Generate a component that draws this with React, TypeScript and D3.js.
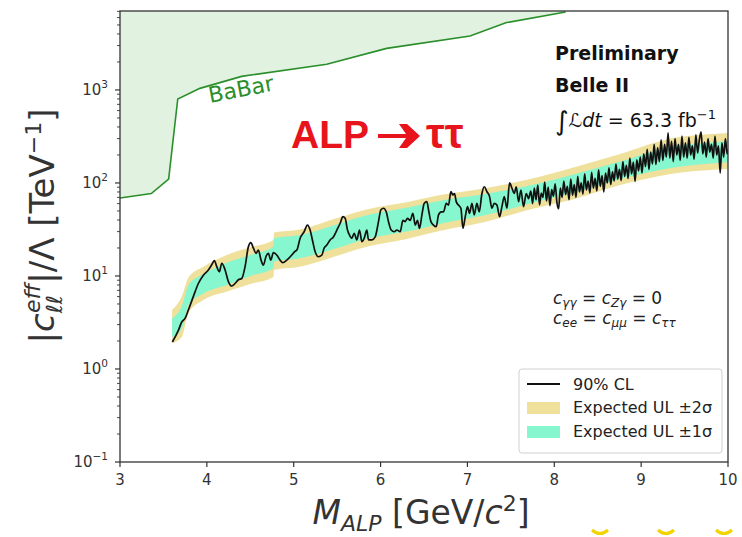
import React from 'react';
import * as d3 from 'd3';

const W = 742;
const H = 537;
const plot = { left: 120, right: 728, top: 11, bottom: 462 };
const FONT = '"DejaVu Sans", sans-serif';
const INK = '#333';

// BaBar exclusion boundary
const babarMass = [3.0, 3.36, 3.56, 3.665, 3.92, 4.4, 5.38, 6.07, 7.03, 7.45, 8.13];
const babarLimit = [69, 77, 110, 800, 1040, 1400, 1890, 2800, 3800, 5300, 6900];

// expected upper limit bands
const bandMass = [3.6, 3.71, 3.79, 3.96, 4.23, 4.5, 4.765, 4.775, 5.07, 5.5, 5.84, 6.3, 6.72, 7.2, 7.72, 8.2, 8.76, 9.34, 9.91, 10.0];
const exp2Hi = [4.3, 6.0, 9.7, 12.6, 16.8, 20.3, 24.4, 29.3, 31.6, 42, 52, 62, 75, 88, 110, 145, 205, 300, 340, 345];
const exp1Hi = [3.5, 4.7, 8.0, 10.5, 13.9, 16.8, 20.6, 25.4, 27.5, 36, 45, 54, 65, 76, 94, 122, 170, 245, 275, 280];
const exp1Lo = [2.2, 2.7, 4.9, 6.5, 8.0, 10.0, 12.1, 14.3, 15.5, 20, 25, 30, 37, 45, 60, 78, 110, 145, 165, 167];
const exp2Lo = [1.9, 2.2, 4.0, 5.5, 6.8, 8.2, 9.7, 11.6, 12.6, 16.5, 20.6, 25, 31, 38, 52, 66, 95, 125, 140, 142];

// observed 90% CL upper limit [mass, limit]
const clLimit: [number, number][] = [
  [3.603, 1.95], [3.672, 2.6], [3.711, 3.2], [3.749, 3.5], [3.787, 4.3], [3.844, 6.0], [3.902, 8.3],
  [3.96, 10.2], [4.017, 11.6], [4.056, 13.2], [4.086, 14.6], [4.114, 12.6], [4.144, 11.1], [4.172, 13.7],
  [4.21, 11.6], [4.248, 8.7], [4.287, 7.8], [4.325, 8.3], [4.363, 9.1], [4.402, 9.4], [4.44, 12.6],
  [4.478, 20.6], [4.506, 22.8], [4.536, 19.9], [4.567, 17.5], [4.593, 19], [4.624, 14.8], [4.651, 13.1],
  [4.682, 16.3], [4.709, 17.5], [4.736, 14.8], [4.766, 17.8], [4.805, 16.8], [4.843, 14.8], [4.874, 13.9],
  [4.92, 14.8], [4.978, 16.8], [5.008, 18.2], [5.036, 19], [5.074, 25.4], [5.12, 29.9], [5.158, 35.3],
  [5.189, 31.2], [5.215, 24.4], [5.247, 18.2], [5.285, 16.1], [5.324, 16.8], [5.35, 19.9], [5.381, 21.5],
  [5.419, 24.4], [5.457, 26.3], [5.497, 31.2], [5.535, 36.9], [5.566, 43.4], [5.592, 41.7], [5.619, 31.2],
  [5.642, 27.6], [5.669, 25.4], [5.696, 28.8], [5.727, 24.4], [5.757, 31.2], [5.785, 23.4], [5.811, 25.4],
  [5.842, 31.2], [5.861, 24.4], [5.9, 24.4], [5.938, 26.3], [5.976, 38.4], [6.003, 51.3], [6.033, 53.5],
  [6.065, 49], [6.091, 38.4], [6.122, 31.2], [6.157, 29.9], [6.188, 31.2], [6.226, 29.9], [6.257, 39.6],
  [6.283, 38.4], [6.31, 41.7], [6.341, 39.6], [6.372, 47.2], [6.399, 35.3], [6.425, 39.6], [6.448, 32.5],
  [6.476, 45.3], [6.502, 60.3], [6.533, 63], [6.556, 49], [6.58, 38.4], [6.609, 35.3], [6.641, 33.9],
  [6.667, 45.3], [6.698, 49], [6.725, 49], [6.756, 60.3], [6.782, 57.8], [6.81, 80.5], [6.833, 74.2],
  [6.851, 77], [6.871, 63], [6.897, 57.8], [6.925, 53.5], [6.948, 32.5], [6.975, 43.4], [7.001, 55.6],
  [7.024, 47.2], [7.052, 60.3], [7.078, 45.3], [7.109, 60.3], [7.136, 49], [7.167, 77], [7.194, 91],
  [7.225, 80.5], [7.255, 71.3], [7.282, 53.5], [7.309, 60.3], [7.34, 57.8], [7.37, 43.4], [7.397, 55.6],
  [7.424, 71.3], [7.455, 53.5], [7.485, 100], [7.513, 87.7], [7.539, 77], [7.562, 91], [7.589, 63],
  [7.616, 84], [7.646, 55.6], [7.677, 77], [7.704, 68],
  [7.73, 82], [7.75, 60], [7.77, 88], [7.79, 66], [7.81, 95], [7.83, 58], [7.85, 78], [7.87, 70],
  [7.89, 102], [7.91, 64], [7.93, 90], [7.95, 57], [7.97, 85], [7.99, 72], [8.01, 98], [8.03, 62],
  [8.05, 53], [8.07, 88], [8.09, 70], [8.11, 105], [8.13, 75], [8.15, 92], [8.17, 66], [8.19, 110],
  [8.21, 74], [8.23, 96], [8.25, 70], [8.27, 118], [8.29, 80], [8.31, 100], [8.33, 76], [8.35, 125],
  [8.37, 84], [8.39, 105], [8.41, 78], [8.43, 130], [8.45, 88], [8.47, 112], [8.49, 82], [8.51, 138],
  [8.53, 92], [8.55, 120], [8.57, 80], [8.59, 128], [8.61, 100], [8.63, 145], [8.65, 96], [8.67, 132],
  [8.69, 105], [8.71, 160], [8.73, 110], [8.75, 140], [8.77, 106], [8.79, 170], [8.81, 118], [8.83, 155],
  [8.85, 112], [8.87, 185], [8.89, 125], [8.91, 168], [8.93, 104], [8.95, 177], [8.97, 135], [8.99, 190],
  [9.01, 128], [9.03, 205], [9.05, 150], [9.07, 230], [9.09, 140], [9.11, 215], [9.13, 160], [9.15, 260],
  [9.17, 158], [9.19, 240], [9.21, 170], [9.23, 290], [9.25, 175], [9.27, 260], [9.29, 190], [9.31, 345],
  [9.33, 185], [9.35, 280], [9.37, 170], [9.39, 300], [9.41, 200], [9.43, 260], [9.45, 175], [9.47, 320],
  [9.49, 190], [9.51, 270], [9.53, 185], [9.55, 310], [9.57, 200], [9.59, 250], [9.61, 180], [9.63, 330],
  [9.65, 210], [9.67, 290], [9.69, 355], [9.71, 205], [9.73, 275], [9.75, 190], [9.77, 300], [9.79, 215],
  [9.81, 260], [9.83, 185], [9.85, 320], [9.87, 200], [9.89, 250], [9.91, 128], [9.93, 270], [9.95, 190],
  [9.97, 300], [9.99, 205], [10.0, 230],
];

const xTicks = [3, 4, 5, 6, 7, 8, 9, 10];
const yTickExp = [-1, 0, 1, 2, 3];
const yMax = 7060;

export default function App() {
  const x = d3.scaleLinear().domain([3, 10]).range([plot.left, plot.right]);
  const y = d3.scaleLog().domain([0.1, yMax]).range([plot.bottom, plot.top]);

  const babarArea = d3.area<number>()
    .x(i => x(babarMass[i]))
    .y0(y(yMax))
    .y1(i => y(babarLimit[i]))(babarMass.map((_, i) => i));
  const babarLine = d3.line<number>()
    .x(i => x(babarMass[i]))
    .y(i => y(babarLimit[i]))(babarMass.map((_, i) => i));

  const idx = bandMass.map((_, i) => i);
  const band = (lo: number[], hi: number[]) => d3.area<number>()
    .x(i => x(bandMass[i]))
    .y0(i => y(lo[i]))
    .y1(i => y(hi[i]))
    .curve(d3.curveMonotoneX)(idx);

  const clPath = d3.line<[number, number]>()
    .x(d => x(d[0]))
    .y(d => y(d[1]))
    .curve(d3.curveMonotoneX)(clLimit);

  const minor: number[] = [];
  [0.1, 1, 10, 100, 1000].forEach(base => {
    for (let k = 2; k <= 9; k++) {
      const v = base * k;
      if (v < yMax) minor.push(v);
    }
  });

  return (
    <svg width={W} height={H} style={{ position: 'absolute', left: 0, top: 0, background: '#fff' }}
      fontFamily={FONT}>
      <defs>
        <clipPath id="plotclip">
          <rect x={plot.left} y={plot.top} width={plot.right - plot.left} height={plot.bottom - plot.top} />
        </clipPath>
      </defs>

      <g clipPath="url(#plotclip)">
        <path d={babarArea || ''} fill="#2ca02c" fillOpacity={0.14} />
        <path d={babarLine || ''} fill="none" stroke="#2a8f2a" strokeWidth={1.6} />
        <path d={band(exp2Lo, exp2Hi) || ''} fill="#efe09c" />
        <path d={band(exp1Lo, exp1Hi) || ''} fill="#86f7cf" />
        <path d={clPath || ''} fill="none" stroke="#111" strokeWidth={1.7} strokeLinejoin="round" />
      </g>

      {/* frame */}
      <rect x={plot.left} y={plot.top} width={plot.right - plot.left} height={plot.bottom - plot.top}
        fill="none" stroke={INK} strokeWidth={1.3} />

      {/* x axis */}
      {xTicks.map(t => (
        <g key={t}>
          <line x1={x(t)} x2={x(t)} y1={plot.bottom} y2={plot.bottom + 5} stroke={INK} strokeWidth={1.2} />
          <text x={x(t)} y={485} textAnchor="middle" fontSize={15} fill={INK}>{t}</text>
        </g>
      ))}

      {/* y axis */}
      {minor.map(v => (
        <line key={v} x1={plot.left - 3} x2={plot.left} y1={y(v)} y2={y(v)} stroke={INK} strokeWidth={0.9} />
      ))}
      {yTickExp.map(e => (
        <g key={e}>
          <line x1={plot.left - 5} x2={plot.left} y1={y(Math.pow(10, e))} y2={y(Math.pow(10, e))} stroke={INK} strokeWidth={1.2} />
          <text x={108} y={y(Math.pow(10, e)) + 5} textAnchor="end" fontSize={15} fill={INK}>
            10<tspan dy={-7} fontSize={10.5}>{e < 0 ? '\u2212' + Math.abs(e) : e}</tspan>
          </text>
        </g>
      ))}

      {/* axis titles */}
      <text x={421} y={524} textAnchor="middle" fontSize={33} fill={INK}>
        <tspan fontStyle="italic">M</tspan>
        <tspan dy={7} fontSize={22} fontStyle="italic">ALP</tspan>
        <tspan dy={-7}> [GeV/</tspan>
        <tspan fontStyle="italic">c</tspan>
        <tspan dy={-13} fontSize={22}>2</tspan>
        <tspan dy={13}>]</tspan>
      </text>
      <text transform="translate(54,226) rotate(-90)" textAnchor="middle" fontSize={34} fill={INK}>
        <tspan>|</tspan>
        <tspan fontStyle="italic">c</tspan>
        <tspan dy={8} fontSize={22} fontStyle="italic">{'\u2113\u2113'}</tspan>
        <tspan dx={-18} dy={-22} fontSize={22} fontStyle="italic">eff</tspan>
        <tspan dy={14}>|/Λ [TeV</tspan>
        <tspan dy={-13} fontSize={22}>{'\u22121'}</tspan>
        <tspan dy={13}>]</tspan>
      </text>

      {/* BaBar label */}
      <text transform="translate(210,103) rotate(-11)" fontSize={22} fill="#2a8f2a">BaBar</text>

      {/* title */}
      <g fill="#e8141c" fontFamily='"Liberation Sans", sans-serif' fontWeight="bold">
        <text x={291} y={148} fontSize={39}>ALP</text>
        <path d="M378,134 L406,134 L399,124 L407,124 L420,136 L407,148 L399,148 L406,138 L378,138 Z" />
        <text x={426} y={148} fontSize={42}>ττ</text>
      </g>

      {/* annotations */}
      <text x={555} y={60} fontWeight="bold" fontSize={19} fill="#111">Preliminary</text>
      <text x={555} y={92} fontWeight="bold" fontSize={19} fill="#111">Belle II</text>
      <text x={555} y={127} fontSize={19} fill="#111">
        <tspan fontSize={26} dy={3}>∫</tspan>
        <tspan dy={-3} fontStyle="italic">ℒdt</tspan>
        <tspan> = 63.3 fb</tspan>
        <tspan dy={-8} fontSize={13}>{'\u22121'}</tspan>
      </text>
      <text x={553} y={304} fontSize={17} fill="#222">
        <tspan fontStyle="italic">c</tspan>
        <tspan dy={3} fontSize={12} fontStyle="italic">γγ</tspan>
        <tspan dy={-3}> = </tspan>
        <tspan fontStyle="italic">c</tspan>
        <tspan dy={3} fontSize={12} fontStyle="italic">Zγ</tspan>
        <tspan dy={-3}> = 0</tspan>
      </text>
      <text x={553} y={324} fontSize={17} fill="#222">
        <tspan fontStyle="italic">c</tspan>
        <tspan dy={3} fontSize={12} fontStyle="italic">ee</tspan>
        <tspan dy={-3}> = </tspan>
        <tspan fontStyle="italic">c</tspan>
        <tspan dy={3} fontSize={12} fontStyle="italic">μμ</tspan>
        <tspan dy={-3}> = </tspan>
        <tspan fontStyle="italic">c</tspan>
        <tspan dy={3} fontSize={12} fontStyle="italic">ττ</tspan>
      </text>

      {/* legend */}
      <g>
        <rect x={519} y={369} width={203} height={84} rx={3} fill="#fff" fillOpacity={0.85} stroke="#d0d0d0" />
        <line x1={527} x2={560} y1={384} y2={384} stroke="#111" strokeWidth={1.8} />
        <text x={573} y={390} fontSize={16} fill="#222">90% CL</text>
        <rect x={527} y={402} width={33} height={12} fill="#efe09c" />
        <text x={573} y={413} fontSize={16} fill="#222">Expected UL ±2σ</text>
        <rect x={527} y={426} width={33} height={12} fill="#86f7cf" />
        <text x={573} y={437} fontSize={16} fill="#222">Expected UL ±1σ</text>
      </g>

      {/* slide decoration at the bottom edge */}
      <g fill="none" stroke="#f2d400" strokeWidth={3}>
        <path d="M592,530 Q600,537 608,530" />
        <path d="M658,530 Q666,537 674,530" />
        <path d="M716,530 Q724,537 732,530" />
      </g>
    </svg>
  );
}
